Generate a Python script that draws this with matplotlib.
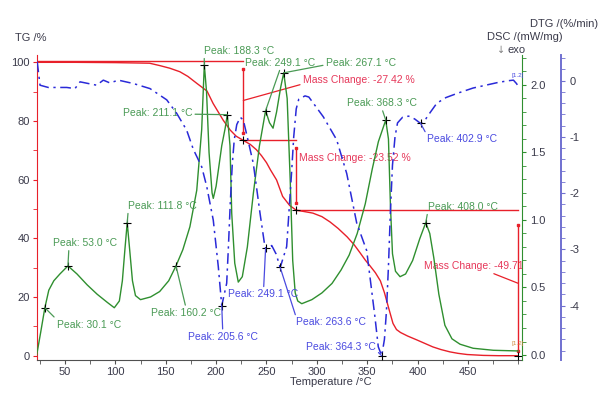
import numpy as np
import matplotlib.pyplot as plt
from matplotlib.ticker import MultipleLocator, FixedLocator

plt.rcParams['font.family'] = ['Liberation Sans', 'DejaVu Sans']

# TG curve (%)
tg_T = [21.5, 60, 100, 134, 144, 154, 164, 172, 181, 191,
        197, 207, 214, 220, 227, 234, 240, 245, 250, 254,
        260, 266, 273, 279.5, 288, 296, 305, 313, 321, 330,
        337, 343, 348, 353, 358, 363, 367, 371, 375.5, 379,
        383, 390, 399, 407, 415, 423, 432, 440, 449, 465,
        480, 499.5]
tg_v = [100, 100, 99.9, 99.7, 98.9, 98.0, 96.8, 95.2, 92.8, 90.2,
        86.0, 80.3, 76.9, 74.8, 73.4, 72.0, 70.2, 68.2, 65.8, 63.3,
        59.9, 54.3, 51.2, 49.6, 49.1, 48.6, 47.4, 45.6, 43.4, 40.5,
        37.8, 35.0, 32.6, 30.5, 28.3, 25.5, 21.5, 16.5, 11.0, 8.9,
        7.9, 6.7, 5.4, 4.2, 3.0, 2.1, 1.3, 0.8, 0.4, 0.1,
        0.0, 0.0]

# DSC curve (mW/mg)
dsc_T = [22, 26, 30.1, 34, 39, 45, 53.0, 62, 72, 82,
         92, 99, 104, 107, 109.5, 111.8, 114, 117, 120, 125,
         135, 144, 153, 160.2, 167, 174, 180.8, 185.7, 188.3, 190.5,
         193, 196, 197.2, 200, 205.6, 209, 211.1, 213.8, 215.5, 218.5,
         222, 226, 231, 237, 243, 249.1, 253, 256.5, 260, 264,
         267.1, 270.5, 273.5, 276, 278.5, 281, 285, 295, 305, 315,
         324, 332, 340, 348, 355, 361, 368.3, 371, 373, 375,
         378, 382.5, 388, 395, 402, 408.0, 412, 416, 421, 427,
         434, 442, 455, 475, 499.5]
dsc_v = [0.0, 0.17, 0.35, 0.48, 0.55, 0.60, 0.66, 0.60, 0.52, 0.45,
         0.39, 0.35, 0.40, 0.55, 0.78, 0.98, 0.80, 0.55, 0.44, 0.41,
         0.43, 0.47, 0.55, 0.66, 0.78, 0.95, 1.22, 1.67, 2.15, 1.95,
         1.50, 1.20, 1.16, 1.25, 1.55, 1.68, 1.78, 1.55, 1.05, 0.68,
         0.54, 0.58, 0.80, 1.20, 1.55, 1.81, 1.72, 1.68, 1.80, 1.98,
         2.09, 1.90, 1.30, 0.70, 0.46, 0.40, 0.38, 0.41, 0.46, 0.53,
         0.63, 0.74, 0.90, 1.12, 1.38, 1.58, 1.74, 1.60, 1.10, 0.75,
         0.62, 0.58, 0.60, 0.70, 0.86, 0.98, 0.90, 0.72, 0.45, 0.22,
         0.12, 0.08, 0.05, 0.035, 0.03]

# DTG curve (%/min)
dtg_T = [22.5, 25.3, 33.5, 51.8, 60, 65, 73.2, 81.5, 88.1, 94.7,
         103, 117.9, 134.4, 151, 160.9, 170.8, 177.4, 185.7, 190.7, 197.2,
         202.2, 205.6, 210.5, 212.1, 214, 216, 218, 220.5, 224, 227,
         230.4, 236.9, 243.6, 248, 249.1, 252, 255.2, 259.5, 263.6, 270,
         273.3, 275, 277, 279.5, 282, 288.2, 292, 306.3, 319.6, 329.6,
         339.5, 349.4, 357.6, 360.9, 364.3, 367, 369, 371, 373, 375,
         377.5, 380, 385, 391, 397, 402.9, 408, 413, 419, 428,
         440, 455, 470, 480, 490, 495, 498, 499.5]
dtg_v = [0.34, -0.08, -0.12, -0.12, -0.14, -0.02, -0.05, -0.08, 0.01, -0.04,
         0.01, -0.05, -0.14, -0.34, -0.58, -0.88, -1.22, -1.53, -1.88, -2.48,
         -3.31, -4.0, -3.6, -3.0, -2.2, -1.5, -1.05, -0.78, -0.65, -0.70,
         -0.96, -1.47, -2.36, -2.9, -2.98, -2.96, -2.93, -3.08, -3.32, -2.95,
         -2.06, -1.6, -1.0, -0.5, -0.33, -0.27, -0.29, -0.64, -1.05, -1.65,
         -2.53, -3.02, -4.2, -4.73, -4.89, -4.6, -4.1, -3.3, -2.3, -1.5,
         -1.0, -0.75, -0.65, -0.63, -0.68, -0.76, -0.68, -0.55, -0.40, -0.30,
         -0.22, -0.13, -0.07, -0.03, 0.0, 0.01, -0.05, -0.09]

dsc_peaks = [30.1, 53.0, 111.8, 160.2, 188.3, 211.1, 249.1, 267.1, 368.3, 408.0]
dtg_peaks = [205.6, 249.1, 263.6, 364.3, 402.9]

# mass change steps: temperatures bounding each step and the change (%)
step_T = [21.5, 227.0, 279.5, 499.5]
mass_change = ['-27.42', '-23.52', '-49.71']

x_ticks = [50, 100, 150, 200, 250, 300, 350, 400, 450]

RED = '#e8202a'
RED_TXT = '#e6385a'
GREEN = '#2f8f2f'
GREEN_TXT = '#4a9a55'
BLUE = '#2a2ad8'
BLUE_TXT = '#4a4ae0'
DTG_SPINE = '#7070d0'
TICK_TXT = '#3a3a4a'

fig = plt.figure(figsize=(6, 3.96), dpi=100)
ax = fig.add_axes([37 / 600, 36 / 396, 485 / 600, 305 / 396])
ax2 = ax.twinx()
ax3 = ax.twinx()

ax.plot(tg_T, tg_v, color=RED, lw=1.0, zorder=3)
ax2.plot(dsc_T, dsc_v, color=GREEN, lw=1.0)
ax3.plot(dtg_T, dtg_v, color=BLUE, lw=1.1, dashes=(7, 3, 1.5, 3))

ax.set_xlim(22.3, 503.5)
ax.set_ylim(-1.47, 102.5)
ax2.set_ylim(-0.037, 2.222)
ax3.set_ylim(-4.965, 0.457)

# axes styling
for a in (ax, ax2, ax3):
    a.spines['top'].set_visible(False)
    a.patch.set_visible(False)
ax.spines['left'].set_color(RED)
ax.spines['bottom'].set_color('#505050')
ax.spines['right'].set_visible(False)
ax2.spines['right'].set_color(GREEN)
ax2.spines['left'].set_visible(False)
ax2.spines['bottom'].set_visible(False)
ax3.spines['right'].set_position(('axes', 524 / 485))
ax3.spines['right'].set_color(DTG_SPINE)
ax3.spines['right'].set_linewidth(1.4)
ax3.spines['left'].set_visible(False)
ax3.spines['bottom'].set_visible(False)

ax.xaxis.set_major_locator(FixedLocator(x_ticks))
ax.xaxis.set_minor_locator(MultipleLocator(25))
ax.yaxis.set_major_locator(MultipleLocator(20))
ax.yaxis.set_minor_locator(MultipleLocator(10))
ax2.yaxis.set_major_locator(MultipleLocator(0.5))
ax2.yaxis.set_minor_locator(MultipleLocator(0.1))
ax2.yaxis.set_major_formatter(lambda v, p: f'{v:.1f}')
ax3.yaxis.set_major_locator(MultipleLocator(1))
ax3.yaxis.set_minor_locator(MultipleLocator(0.2))
ax3.yaxis.set_major_formatter(lambda v, p: f'{v:.0f}')

ax.tick_params(axis='x', which='both', length=3, color='#505050', labelsize=8, labelcolor=TICK_TXT, pad=2)
ax.tick_params(axis='y', which='both', length=3, color=RED, labelsize=8, labelcolor=TICK_TXT, pad=2)
ax2.tick_params(axis='y', which='both', length=3, color=GREEN, labelsize=8, labelcolor=TICK_TXT, pad=3)
ax3.tick_params(axis='y', which='both', length=3, color=DTG_SPINE, labelsize=8, labelcolor=TICK_TXT, pad=3)

# axis titles
fig.text(15 / 600, 1 - 38 / 396, 'TG /%', fontsize=8, color=TICK_TXT, va='center')
fig.text(487 / 600, 1 - 37 / 396, 'DSC /(mW/mg)', fontsize=8, color=TICK_TXT, va='center')
fig.text(497 / 600, 1 - 50 / 396, '↓', fontsize=7, color='#808080', va='center', family='DejaVu Sans')
fig.text(507 / 600, 1 - 50 / 396, 'exo', fontsize=8, color=TICK_TXT, va='center')
fig.text(530 / 600, 1 - 24 / 396, 'DTG /(%/min)', fontsize=8, color=TICK_TXT, va='center')
ax.set_xlabel('Temperature /°C', fontsize=8, color=TICK_TXT, labelpad=2)
ax.xaxis.set_label_coords(0.605, -0.055)

PX = 0.72  # points per pixel at 100 dpi


def peak(axis, xs, ys, T, dx, dy, ha, relpos, color):
    y = np.interp(T, xs, ys)
    axis.plot(T, y, marker='+', color='black', ms=6, mew=0.8, zorder=6)
    axis.annotate(f'Peak: {T:.1f} °C', xy=(T, y), xytext=(dx * PX, dy * PX),
                  textcoords='offset points', ha=ha, va='center', fontsize=7.5, color=color,
                  arrowprops=dict(arrowstyle='-', color=color, lw=0.9, shrinkA=0, shrinkB=0,
                                  relpos=relpos), zorder=6)


dsc_layout = [(12, -17, 'left', (0, 1)), (17, 23, 'center', (0.25, 0)),
              (1, 17, 'left', (0, 0)), (10, -47, 'center', (0.5, 1)),
              (35, 14, 'center', (0.0, 0.2)), (-35, 2, 'right', (1, 0.35)),
              (15, 48, 'center', (0.5, 0)), (42, 10, 'left', (0, 0.3)),
              (-4, 17, 'center', (0.5, 0)), (2, 16, 'left', (0, 0))]
for T, (dx, dy, ha, rp) in zip(dsc_peaks, dsc_layout):
    peak(ax2, dsc_T, dsc_v, T, dx, dy, ha, rp, GREEN_TXT)

dtg_layout = [(1, -31, 'center', (0.5, 1)), (-2, -46, 'center', (0.5, 1)),
              (16, -55, 'left', (0, 1)), (-6, 9, 'right', (1, 0.2)),
              (6, -16, 'left', (0, 1))]
for T, (dx, dy, ha, rp) in zip(dtg_peaks, dtg_layout):
    peak(ax3, dtg_T, dtg_v, T, dx, dy, ha, rp, BLUE_TXT)

# mass change construction lines
levels = [np.interp(t, tg_T, tg_v) for t in step_T]
levels[0] = levels[0] + 0.3
for i in range(3):
    ax.plot([step_T[i], step_T[i + 1]], [levels[i], levels[i]], color=RED, lw=1.0, zorder=4)
    top = levels[i] - 2.5
    bot = levels[i + 1] + 2.5
    if i == 2:
        top = levels[i] - 5.0
        bot = levels[i + 1] + 1.5
    ax.plot([step_T[i + 1], step_T[i + 1]], [top, bot], color=RED, lw=1.0, zorder=4,
            marker='s', ms=1.8, markevery=[0, 1])
    ax.plot(step_T[i + 1], levels[i + 1], marker='+', color='black', ms=6, mew=0.8, zorder=6)

ax.annotate(f'Mass Change: {mass_change[0]} %', xy=(step_T[1], 87.0), xytext=(286.0, 94.0),
            fontsize=7.5, color=RED_TXT, va='center', ha='left',
            arrowprops=dict(arrowstyle='-', color=RED, lw=0.9, shrinkA=0, shrinkB=0, relpos=(0, 0.1)))
ax.text(282.0, 67.4, f'Mass Change: {mass_change[1]} %', fontsize=7.5, color=RED_TXT,
        va='center', ha='left', zorder=2)
ax.annotate(f'Mass Change: {mass_change[2]} %', xy=(step_T[3], 24.7), xytext=(406.5, 30.6),
            fontsize=7.5, color=RED_TXT, va='center', ha='left', annotation_clip=False,
            arrowprops=dict(arrowstyle='-', color=RED, lw=0.9, shrinkA=0, shrinkB=0,
                            relpos=(0.56, 0)), clip_on=True)

# small curve-id tags at the end of the curves
ax3.text(493, 0.05, '[1.2]', fontsize=4.5, color=BLUE_TXT, va='bottom')
ax2.text(493, 0.07, '[1.2]', fontsize=4.5, color='#d08a40', va='bottom')

fig.savefig('out.png', dpi=100)
